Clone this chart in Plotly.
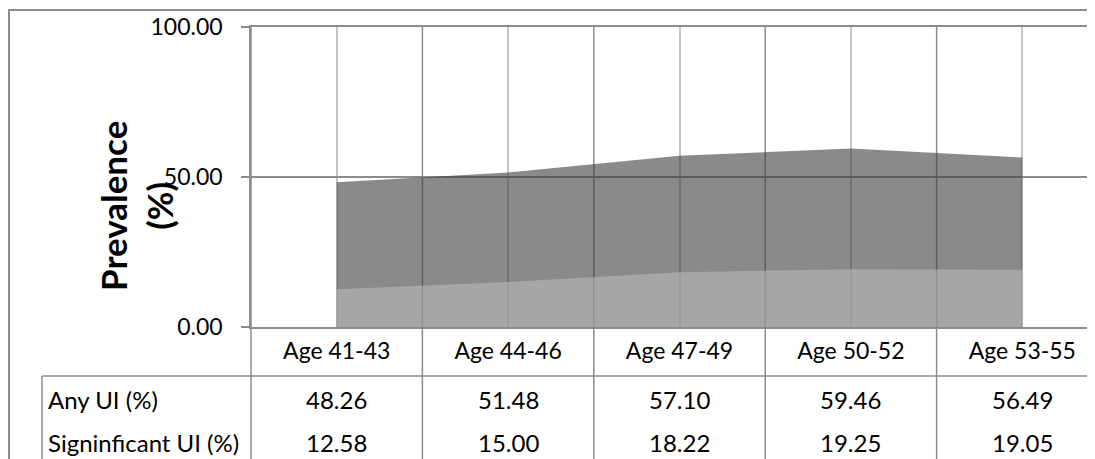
import plotly.graph_objects as go

categories = ["Age 41-43", "Age 44-46", "Age 47-49", "Age 50-52", "Age 53-55"]
any_ui = [48.26, 51.48, 57.10, 59.46, 56.49]
sig_ui = [12.58, 15.00, 18.22, 19.25, 19.05]
series_names = ["Any UI (%)", "Signinficant UI (%)"]
y_ticks = [0, 50, 100]
y_ticktext = ["0.00", "50.00", "100.00"]

FONT = "Lato"
LINE = "#8c8c8c"
LIGHT = "#c4c4c4"

OFF = 8  # page body margin
W, H = 1095 - OFF, 459 - OFF
L = 251 - OFF
T = 27 - OFF
B = H - (327 - OFF)
plot_w = W - L
plot_h = H - T - B
unit = 171.4  # px per category


def px_x(p):
    return (p - OFF - L) / plot_w


def px_y(p):
    return (H - B - (p - OFF)) / plot_h


fig = go.Figure()
fig.add_trace(go.Scatter(
    x=categories, y=any_ui, name=series_names[0], mode="lines",
    line=dict(width=0), fill="tozeroy", fillcolor="rgba(60,60,60,0.6)",
    hoverinfo="skip"))
fig.add_trace(go.Scatter(
    x=categories, y=sig_ui, name=series_names[1], mode="lines",
    line=dict(width=0), fill="tozeroy", fillcolor="rgba(186,186,186,0.58)",
    hoverinfo="skip"))

shapes = []
# outer chart border
shapes.append(dict(type="rect", xref="paper", yref="paper",
                   x0=px_x(9), x1=1.5, y0=-1, y1=px_y(10),
                   line=dict(color=LINE, width=2), layer="below"))
# category boundary lines (plot + data table)
for i in range(len(categories)):
    shapes.append(dict(type="line", xref="x", yref="paper",
                       x0=i + 0.5, x1=i + 0.5, y0=1, y1=-1,
                       line=dict(color=LINE, width=1.5), layer="between"))
# left axis line extended through table
shapes.append(dict(type="line", xref="paper", yref="paper",
                   x0=0, x1=0, y0=1, y1=-1,
                   line=dict(color=LINE, width=1.5), layer="between"))
# table top line and left border
shapes.append(dict(type="line", xref="paper", yref="paper",
                   x0=px_x(42), x1=1.5, y0=px_y(376), y1=px_y(376),
                   line=dict(color=LINE, width=1.5)))
shapes.append(dict(type="line", xref="paper", yref="paper",
                   x0=px_x(42), x1=px_x(42), y0=px_y(376), y1=-1,
                   line=dict(color=LINE, width=1.5)))

annotations = []
# y-axis title
annotations.append(dict(text="<b>Prevalence<br>(%)</b>", xref="paper", yref="paper",
                        x=px_x(136), y=px_y(206), xanchor="center", yanchor="middle",
                        textangle=-90, showarrow=False,
                        font=dict(family=FONT, size=35, color="black")))
# data table rows
rows = [any_ui, sig_ui]
row_y = [399, 442]
for name, vals, ry in zip(series_names, rows, row_y):
    annotations.append(dict(text=name, xref="paper", yref="paper",
                            x=px_x(46), y=px_y(ry), xanchor="left", yanchor="middle",
                            showarrow=False, font=dict(family=FONT, size=24, color="black")))
    for c, v in zip(categories, vals):
        annotations.append(dict(text=f"{v:.2f}", xref="x", yref="paper",
                                x=c, y=px_y(ry), xanchor="center", yanchor="middle",
                                showarrow=False, font=dict(family=FONT, size=24, color="black")))

fig.update_layout(
    width=W, height=H,
    margin=dict(l=L, r=0, t=T, b=B),
    paper_bgcolor="white", plot_bgcolor="white",
    showlegend=False,
    shapes=shapes, annotations=annotations,
    font=dict(family=FONT, color="black"),
    xaxis=dict(
        type="category", range=[-0.5, -0.5 + plot_w / unit],
        showgrid=True, gridcolor=LIGHT, gridwidth=1.5,
        showline=True, linecolor=LINE, linewidth=1.5, mirror=True,
        ticks="", tickfont=dict(family=FONT, size=23, color="black"),
        ticklabelstandoff=3,
    ),
    yaxis=dict(
        range=[0, 100], tickvals=y_ticks, ticktext=y_ticktext,
        showgrid=True, gridcolor=LINE, gridwidth=1.5, zeroline=False,
        showline=True, linecolor=LINE, linewidth=1.5,
        ticks="outside", ticklen=8, tickcolor=LINE, tickwidth=1.5,
        tickfont=dict(family=FONT, size=23, color="black"),
        ticklabelstandoff=14,
    ),
)

fig.write_html("out.html")
